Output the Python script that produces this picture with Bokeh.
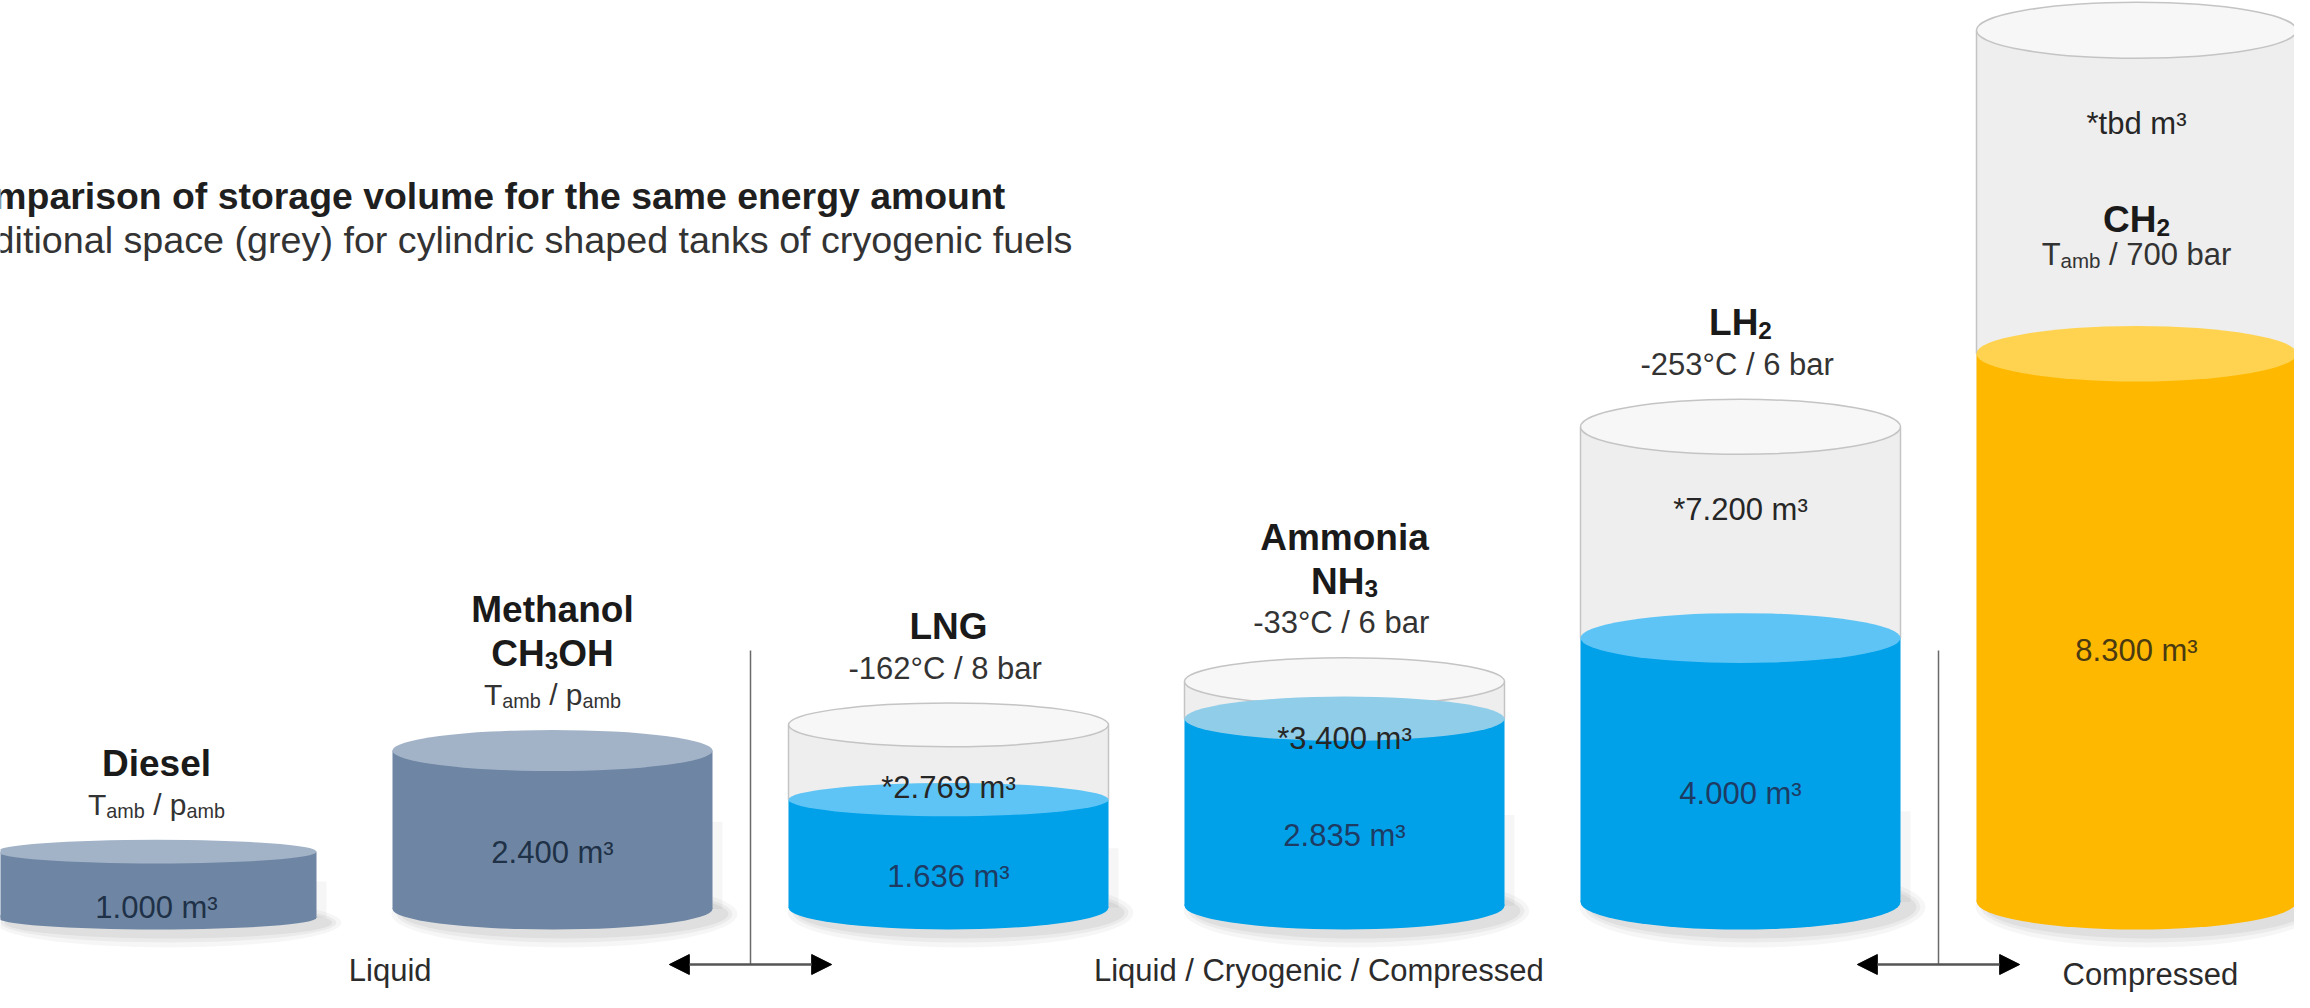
import math
from collections import defaultdict
from bokeh.plotting import figure
from bokeh.models import Range1d, Arrow, NormalHead, ColumnDataSource
from bokeh.embed import file_html
from bokeh.resources import INLINE
from bokeh.core.properties import value

# ---------------- data ----------------
fuels = ["Diesel", "Methanol", "LNG", "Ammonia", "LH2", "CH2"]
fuel_volume = [1000, 2400, 1636, 2835, 4000, 8300]          # m³ for the same energy amount
tank_volume = [None, None, 2769, 3400, 7200, None]          # m³ incl. additional space (grey)
tank_text = [None, None, "*2.769 m³", "*3.400 m³", "*7.200 m³", "*tbd m³"]
volume_text = ["1.000 m³", "2.400 m³", "1.636 m³", "2.835 m³", "4.000 m³", "8.300 m³"]
tbd_tank_extent = 13200                                     # estimated drawn extent of the CH2 tank (tbd)
fuel_kind = ["slate", "slate", "blue", "blue", "blue", "orange"]
# label lines: list of (text, is_subscript) segments
name_lines = [
    [[("Diesel", 0)]],
    [[("Methanol", 0)], [("CH", 0), ("3", 1), ("OH", 0)]],
    [[("LNG", 0)]],
    [[("Ammonia", 0)], [("NH", 0), ("3", 1)]],
    [[("LH", 0), ("2", 1)]],
    [[("CH", 0), ("2", 1)]],
]
condition_lines = [
    [("T", 0), ("amb", 1), (" / p", 0), ("amb", 1)],
    [("T", 0), ("amb", 1), (" / p", 0), ("amb", 1)],
    [("-162°C / 8 bar", 0)],
    [("-33°C / 6 bar", 0)],
    [("-253°C / 6 bar", 0)],
    [("T", 0), ("amb", 1), (" / 700 bar", 0)],
]
group_labels = ["Liquid", "Liquid / Cryogenic / Compressed", "Compressed"]
group_centers = [0.59, 2.935, 5.035]
group_dividers = [1.5, 4.5]
title = "Comparison of storage volume for the same energy amount"
subtitle = "Additional space (grey) for cylindric shaped tanks of cryogenic fuels"

# ---------------- layout / style ----------------
W, H = 2294, 992
X0, XS = 156, 396          # px of first cylinder centre, px between cylinders
LOW = 63                   # px from bottom of the lowest cylinder edge
PPU = 0.066                # px per m³
CW = 320 / XS              # cylinder width in category units
FONT = value("Liberation Sans")

COL = {
    "slate": ("#6e86a3", "#a2b3c8", "#1f3147"),
    "blue": ("#01a1ea", "#5ec4f5", "#1d3b63"),
    "orange": ("#ffb800", "#ffd34f", "#4a3a12"),
}
NH3_TOP = "#8fcde9"
GLASS_BODY, GLASS_TOP, GLASS_LINE = "#eeeeee", "#f7f7f7", "#c4c4c4"

REG = {"T": 611, "a": 556, "m": 833, "b": 556, " ": 278, "/": 278, "p": 556,
       "7": 556, "0": 556, "r": 333}
BOLD = {"A": 722, "C": 722, "D": 722, "G": 778, "H": 722, "L": 611, "M": 833,
        "N": 722, "O": 778, "a": 556, "e": 556, "h": 611, "i": 278, "l": 278,
        "m": 889, "n": 611, "o": 611, "s": 556, "t": 333, "2": 556, "3": 556, " ": 278}


def ytop_to_data(py):
    return (H - LOW - py) / PPU


def data_to_ytop(y):
    return H - LOW - y * PPU


def px_to_x(px):
    return (px - X0) / XS


def ell(hpx):
    return 56 * (1 - math.exp(-hpx / 120.0))


p = figure(width=W, height=H, x_range=Range1d(-X0 / XS, (W - X0) / XS),
           y_range=Range1d(-LOW / PPU, (H - LOW) / PPU),
           x_axis_type=None, y_axis_type=None, output_backend="svg",
           toolbar_location=None, min_border=0)
p.grid.visible = False
p.outline_line_color = None
p.background_fill_color = "white"

texts = []


def add_text(x, y, t, size, bold, color, align="center"):
    texts.append((x, y, t, size, bold, color, align))


def add_segments(cx, center_py, segs, size, bold, color):
    metrics = BOLD if bold else REG
    sizes = [size * 0.66 if sub else size for _, sub in segs]
    widths = [sum(metrics.get(c, 556) for c in s) * fs / 1000 for (s, _), fs in zip(segs, sizes)]
    start = X0 + cx * XS - sum(widths) / 2
    base_py = center_py + 0.36 * size
    for (s, sub), fs, w in zip(segs, sizes, widths):
        lead = len(s) - len(s.lstrip(" "))
        x_px = start + lead * metrics[" "] * fs / 1000 if lead else start
        add_text(px_to_x(x_px), ytop_to_data(base_py + (0.2 * size if sub else 0)),
                 s.strip(" "), fs, bold, color, "left")
        start += w


for i, f in enumerate(fuels):
    vol = fuel_volume[i]
    if tank_volume[i] is not None:
        outer = tank_volume[i]
    elif tank_text[i] is not None:
        outer = tbd_tank_extent
    else:
        outer = vol
    e_b = ell(outer * PPU)
    e_out = e_b
    e_liq = ell(vol * PPU)
    base = (e_b / 2) / PPU
    body, top, tcol = COL[fuel_kind[i]]
    glass = tank_text[i] is not None

    # soft shadow
    for k, a in ((26, 0.035), (16, 0.045), (8, 0.05)):
        p.ellipse(x=[i + 12 / XS], y=[base - 5 / PPU], width=CW + k / XS, height=e_b + k,
                  height_units="screen", fill_color="#000000", fill_alpha=a, line_color=None)
    p.quad(left=[i + CW / 2 - 4 / XS], right=[i + CW / 2 + 10 / XS], bottom=[base],
           top=[base + min(vol, 2500) * 0.55], fill_color="#000000", fill_alpha=0.035, line_color=None)

    if glass:
        p.quad(left=[i - CW / 2], right=[i + CW / 2], bottom=[base], top=[base + outer],
               fill_color=GLASS_BODY, line_color=None)
        p.segment(x0=[i - CW / 2, i + CW / 2], y0=[base + vol] * 2, x1=[i - CW / 2, i + CW / 2],
                  y1=[base + outer] * 2, line_color=GLASS_LINE, line_width=1.5)
        p.ellipse(x=[i], y=[base + outer], width=CW, height=e_out, height_units="screen",
                  fill_color=GLASS_TOP, line_color=GLASS_LINE, line_width=1.5)

    # liquid / fuel body
    p.ellipse(x=[i], y=[base], width=CW, height=e_b, height_units="screen",
              fill_color=body, line_color=None)
    p.quad(left=[i - CW / 2], right=[i + CW / 2], bottom=[base], top=[base + vol],
           fill_color=body, line_color=None)
    ltop = NH3_TOP if f == "Ammonia" else top
    p.ellipse(x=[i], y=[base + vol], width=CW, height=e_liq, height_units="screen",
              fill_color=ltop, line_color=None)

    # value label inside the fuel body
    mid_py = (data_to_ytop(base) + data_to_ytop(base + vol)) / 2 + 12
    add_text(i, ytop_to_data(mid_py + 0.36 * 31), volume_text[i], 31, False, tcol)

    top_center_py = data_to_ytop(base + outer)
    if glass:
        gap = (outer - vol) * PPU
        off = min(82, 40 + 0.15 * gap)
        tpy = top_center_py + off
        add_text(i, ytop_to_data(tpy + 0.36 * 31), tank_text[i], 31, False, "#262626")

    if tank_volume[i] is None and glass:
        # labels inside the (tbd) tank
        name_py = tpy + 94
        add_segments(i, name_py, name_lines[i][0], 37, True, "#1a1a1a")
        add_segments(i, name_py + 37, condition_lines[i], 31, False, "#333333")
    else:
        edge_py = top_center_py - e_out / 2
        cond_py = edge_py - 46
        add_segments(i, cond_py, condition_lines[i], 30 if fuel_kind[i] == "slate" else 31,
                     False, "#333333")
        for j, line in enumerate(reversed(name_lines[i])):
            add_segments(i, cond_py - 44 * (j + 1), line, 37, True, "#1a1a1a")

# dividers with double arrows
arrow_py = 964
for d in group_dividers:
    p.segment(x0=[d], y0=[ytop_to_data(arrow_py)], x1=[d], y1=[ytop_to_data(650)],
              line_color="#6a6a6a", line_width=1.5)
    p.add_layout(Arrow(start=NormalHead(size=20, fill_color="black", line_color="black"),
                       end=NormalHead(size=20, fill_color="black", line_color="black"),
                       x_start=d - 0.205, x_end=d + 0.205,
                       y_start=ytop_to_data(arrow_py), y_end=ytop_to_data(arrow_py),
                       line_color="#555555", line_width=2.5))

group_base = [970, 970, 974]
for g, cx, b in zip(group_labels, group_centers, group_base):
    add_text(cx, ytop_to_data(b), g, 31, False, "#2b2b2b")

# title and subtitle (left part cut off as in the original)
add_text(px_to_x(-57), ytop_to_data(195), title, 37.4, True, "#1f1f1f", "left")
add_text(px_to_x(-53), ytop_to_data(239), subtitle, 37.7, False, "#333333", "left")

groups = defaultdict(lambda: {"x": [], "y": [], "t": []})
for x, y, t, size, bold, color, align in texts:
    g = groups[(size, bold, color, align)]
    g["x"].append(x)
    g["y"].append(y)
    g["t"].append(t)
for (size, bold, color, align), g in groups.items():
    src = ColumnDataSource(dict(x=g["x"], y=g["y"], t=g["t"]))
    p.text(x="x", y="y", text="t", source=src, text_font=FONT,
           text_font_size=value(f"{size:.1f}px"),
           text_font_style="bold" if bold else "normal", text_color=color,
           text_align=align, text_baseline="alphabetic")

open("out.html", "w").write(file_html(p, INLINE))
